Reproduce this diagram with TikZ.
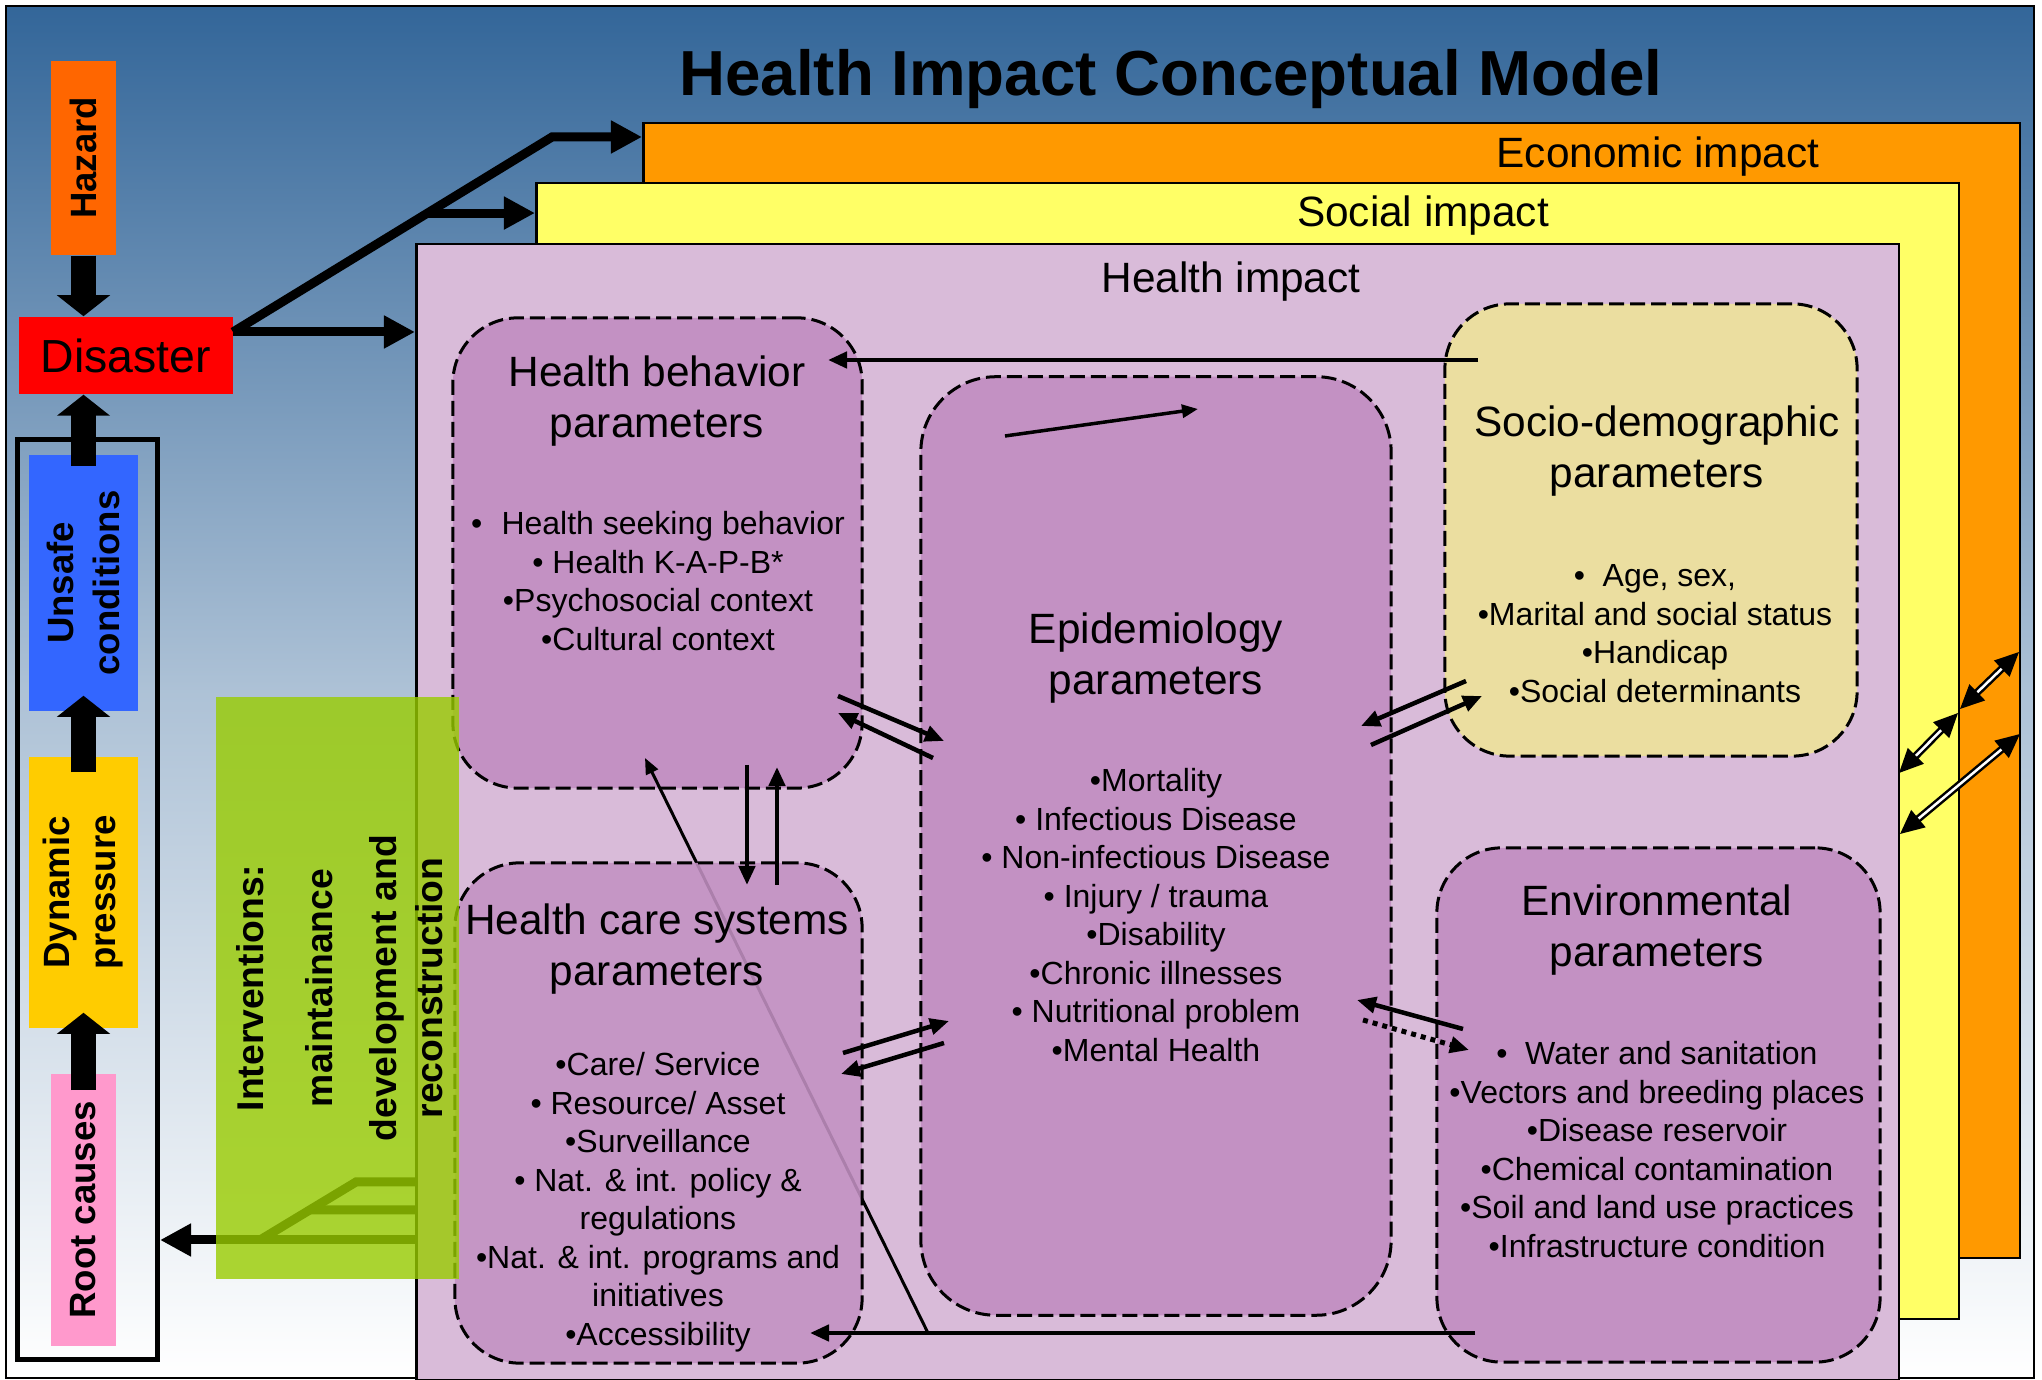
\documentclass[tikz,border=0pt]{standalone}
\usepackage{fontspec}
\setmainfont{Liberation Sans}
\usetikzlibrary{arrows.meta,calc}

\definecolor{skytop}{HTML}{336699}
\definecolor{econorange}{HTML}{FF9900}
\definecolor{socialyellow}{HTML}{FFFF66}
\definecolor{healthpink}{HTML}{D9BBD9}
\definecolor{parampurple}{HTML}{C391C3}
\definecolor{sociosand}{HTML}{EBDEA0}
\definecolor{hazardorange}{HTML}{FF6600}
\definecolor{unsafeblue}{HTML}{3366FF}
\definecolor{dynamicgold}{HTML}{FFCC00}
\definecolor{rootpink}{HTML}{FF99CC}
\definecolor{interventiongreen}{HTML}{99CC00}

\tikzset{
  layer/.style={draw=black, line width=0.025cm, anchor=north west, inner sep=0pt},
  layertitle/.style={font=\fontsize{12.05}{14.6}\selectfont, anchor=north, inner sep=0pt},
  stagebox/.style={inner sep=0pt},
  stagelabel/.style={inner sep=0pt, rotate=90, align=center, font=\fontsize{10.4}{13.1}\selectfont\bfseries},
  greenlabel/.style={inner sep=0pt, rotate=90, anchor=base, font=\fontsize{10.6}{13}\selectfont\bfseries},
  paramblock/.style={draw=black, line width=0.03cm, dash pattern=on 0.15cm off 0.06cm, rounded corners=0.65cm, inner sep=0pt, fill=parampurple},
  paramtitle/.style={font=\fontsize{12.05}{14.65}\selectfont, align=center, anchor=north, inner sep=0pt},
  paramlist/.style={font=\fontsize{9.1}{10.95}\selectfont, align=center, anchor=north, inner sep=0pt},
  bigarrow/.style={line width=0.25cm, -{Triangle[width=0.52cm,length=0.21cm]}},
  fanline/.style={line width=0.09cm},
  fanarrow/.style={fanline, -{Triangle[width=0.31cm,length=0.31cm]}},
  link/.style={line width=0.045cm, -{Triangle[width=0.16cm,length=0.19cm]}},
  thinlink/.style={line width=0.03cm, -{Triangle[width=0.13cm,length=0.16cm]}},
  twoway/.style={double=white, double distance=0.025cm, line width=0.025cm,
    {Triangle[width=0.22cm,length=0.24cm]}-{Triangle[width=0.22cm,length=0.24cm]}},
}

\begin{document}
\begin{tikzpicture}[x=0.01cm,y=-0.01cm]
  \useasboundingbox (0,0) rectangle (2042,1380);

  % Background and frame
  \shade[top color=skytop, bottom color=white, middle color=skytop!40!white] (6,6) rectangle (2034,1378);
  \draw[line width=0.02cm] (6,6) rectangle (2034,1378);

  % Title
  \node[font=\fontsize{18.1}{21}\selectfont\bfseries, anchor=north, inner sep=0pt] (title) at (1171,49) {Health Impact Conceptual Model};

  % Impact layers
  \node[layer, fill=econorange, minimum width=13.76cm, minimum height=11.34cm] (econ) at (642,122) {};
  \node[layer, fill=socialyellow, minimum width=14.22cm, minimum height=11.35cm] (social) at (535,182) {};
  \node[layer, fill=healthpink, minimum width=14.82cm, minimum height=11.35cm] (health) at (415,243) {};
  \node[layertitle] (econT) at (1658,136) {Economic impact};
  \node[layertitle] (socialT) at (1423,195) {Social impact};
  \node[layertitle] (healthT) at (1231,261) {Health impact};

  % Pressure chain on the left
  \node[draw, line width=0.05cm, inner sep=0pt, minimum width=1.40cm, minimum height=9.20cm] (chain) at (87.5,899.5) {};
  \node[stagebox, fill=hazardorange, minimum width=0.65cm, minimum height=1.94cm] (hazard) at (83.5,158) {};
  \node[stagebox, fill=red, minimum width=2.14cm, minimum height=0.77cm] (disaster) at (126,355.5) {};
  \node[stagebox, fill=unsafeblue, minimum width=1.09cm, minimum height=2.56cm] (unsafe) at (83.5,583) {};
  \node[stagebox, fill=dynamicgold, minimum width=1.09cm, minimum height=2.71cm] (dynamic) at (83.5,892.5) {};
  \node[stagebox, fill=rootpink, minimum width=0.65cm, minimum height=2.72cm] (root) at (83.5,1210) {};

  \node[stagelabel] (hazardL) at (hazard) {Hazard};
  \node[inner sep=0pt, font=\fontsize{13.2}{15}\selectfont] (disasterL) at (disaster) {Disaster};
  \node[stagelabel] (unsafeL) at (unsafe) {Unsafe\\conditions};
  \node[stagelabel] (dynamicL) at (dynamic) {Dynamic\\pressure};
  \node[stagelabel] (rootL) at (root) {Root causes};

  \draw[bigarrow] (hazard.south) -- (hazard.south |- disaster.north);
  \draw[bigarrow] ([yshift=-0.12cm]unsafe.north) -- (unsafe.north |- disaster.south);
  \draw[bigarrow] ([yshift=-0.16cm]dynamic.north) -- ([yshift=0.16cm]unsafe.south);
  \draw[bigarrow] ([yshift=-0.17cm]root.north) -- ([yshift=0.16cm]dynamic.south);

  % Disaster fans out to the layers
  \coordinate (fanstart) at (233,332);
  \coordinate (fantop) at (552,137);
  \coordinate (fanmid) at ($(fanstart)!0.61!(fantop)$);
  \draw[fanarrow] (fanstart) -- (fantop) -- (fantop -| econ.west);
  \draw[fanarrow] (fanmid) -- (fanmid -| social.west);
  \draw[fanarrow] (fanstart) -- (fanstart -| health.west);

  % Parameter groups
  \node[paramblock, minimum width=4.09cm, minimum height=4.70cm] (behav) at (657.5,553) {};
  \node[paramblock, rounded corners=0.75cm, minimum width=4.70cm, minimum height=9.38cm] (epi) at (1156,846) {};
  \node[paramblock, fill=sociosand, minimum width=4.12cm, minimum height=4.52cm] (socio) at (1651,530) {};
  \node[paramblock, minimum width=4.43cm, minimum height=5.14cm] (env) at (1658.5,1105) {};

  % Long link under the health care box
  \coordinate (acrossfrom) at (928,1333);
  \coordinate (acrossto) at (645,758);
  \draw[thinlink] (acrossfrom) -- (acrossto);
  \node[paramblock, fill opacity=0.88, minimum width=4.07cm, minimum height=5.00cm] (hcare) at (658.5,1113) {};

  % Group texts
  \node[paramtitle] (behavT) at (657,355) {Health behavior\\parameters};
  \node[paramlist] (behavL) at (658,511) {\textbullet\hspace{0.6em}Health seeking behavior\\\textbullet{} Health K-A-P-B*\\\textbullet Psychosocial context\\\textbullet Cultural context};
  \node[paramtitle] (epiT) at (1156,612) {Epidemiology\\parameters};
  \node[paramlist] (epiL) at (1156,768) {\textbullet Mortality\\\textbullet{} Infectious Disease\\\textbullet{} Non-infectious Disease\\\textbullet{} Injury / trauma\\\textbullet Disability\\\textbullet Chronic illnesses\\\textbullet{} Nutritional problem\\\textbullet Mental Health};
  \node[paramtitle] (hcareT) at (657,903) {Health care systems\\parameters};
  \node[paramlist] (hcareL) at (658,1052) {\textbullet Care/ Service\\\textbullet{} Resource/ Asset\\\textbullet Surveillance\\\textbullet{} Nat. \& int. policy \&\\regulations\\\textbullet Nat. \& int. programs and\\initiatives\\\textbullet Accessibility};
  \node[paramtitle] (socioT) at (1657,405) {Socio-demographic\\parameters};
  \node[paramlist] (socioL) at (1655,564) {\textbullet\hspace{0.55em}Age, sex,\\\textbullet Marital and social status\\\textbullet Handicap\\\textbullet Social determinants};
  \node[paramtitle] (envT) at (1657,884) {Environmental\\parameters};
  \node[paramlist] (envL) at (1657,1041) {\textbullet\hspace{0.55em}Water and sanitation\\\textbullet Vectors and breeding places\\\textbullet Disease reservoir\\\textbullet Chemical contamination\\\textbullet Soil and land use practices\\\textbullet Infrastructure condition};

  % Links between groups
  \coordinate (sociofrom) at (1478,360);
  \coordinate (behavto) at (828,360);
  \draw[link] (sociofrom) -- (behavto);
  \coordinate (envfrom) at (1475,1333);
  \coordinate (hcareto) at (810,1333);
  \draw[link] (envfrom) -- (hcareto);
  \coordinate (downfrom) at (747,765);
  \coordinate (downto) at (747,885);
  \draw[link] (downfrom) -- (downto);
  \coordinate (upfrom) at (777,885);
  \coordinate (upto) at (777,767);
  \draw[link] (upfrom) -- (upto);
  \coordinate (be1) at (838,696);
  \coordinate (be2) at (944,741);
  \draw[link] (be1) -- (be2);
  \coordinate (eb1) at (933,758);
  \coordinate (eb2) at (838,713);
  \draw[link] (eb1) -- (eb2);
  \coordinate (he1) at (843,1053);
  \coordinate (he2) at (949,1021);
  \draw[link] (he1) -- (he2);
  \coordinate (eh1) at (944,1043);
  \coordinate (eh2) at (841,1074);
  \draw[link] (eh1) -- (eh2);
  \coordinate (se1) at (1466,681);
  \coordinate (se2) at (1361,726);
  \draw[link] (se1) -- (se2);
  \coordinate (es1) at (1371,745);
  \coordinate (es2) at (1482,696);
  \draw[link] (es1) -- (es2);
  \coordinate (ne1) at (1463,1029);
  \coordinate (ne2) at (1357,1000);
  \draw[link] (ne1) -- (ne2);
  \coordinate (en1) at (1363,1020);
  \coordinate (en2) at (1469,1050);
  \draw[link, line width=0.05cm, dash pattern=on 0.05cm off 0.05cm] (en1) -- (en2);
  \coordinate (epiin1) at (1005,436);
  \coordinate (epiin2) at (1198,409);
  \draw[thinlink, line width=0.035cm] (epiin1) -- (epiin2);

  % Links across the layers
  \coordinate (layA1) at (1960,709);
  \coordinate (layA2) at (2019,652);
  \draw[twoway] (layA1) -- (layA2);
  \coordinate (layB1) at (1899,773);
  \coordinate (layB2) at (1958,713);
  \draw[twoway] (layB1) -- (layB2);
  \coordinate (layC1) at (1900,834);
  \coordinate (layC2) at (2020,734);
  \draw[twoway] (layC1) -- (layC2);

  % Interventions back to the root causes
  \coordinate (intlow) at (415,1240);
  \coordinate (intmid) at (415,1210);
  \coordinate (inttop) at (415,1182);
  \coordinate (intbend) at (356,1182);
  \coordinate (intjoin) at (260,1240);
  \draw[fanline] (inttop) -- (intbend) -- (intjoin);
  \draw[fanline] (intmid) -- ($(intbend)!0.48!(intjoin)$);
  \draw[fanarrow] (intlow) -- (intlow -| chain.east);
  \node[stagebox, fill=interventiongreen, fill opacity=0.8, minimum width=2.43cm, minimum height=5.82cm] (interv) at (337.5,988) {};
  \node[greenlabel] (intvA) at (263,988) {Interventions:};
  \node[greenlabel] (intvB) at (332,988) {maintainance};
  \node[greenlabel] (intvC) at (396,988) {development and};
  \node[greenlabel] (intvD) at (442,988) {reconstruction};
\end{tikzpicture}
\end{document}
